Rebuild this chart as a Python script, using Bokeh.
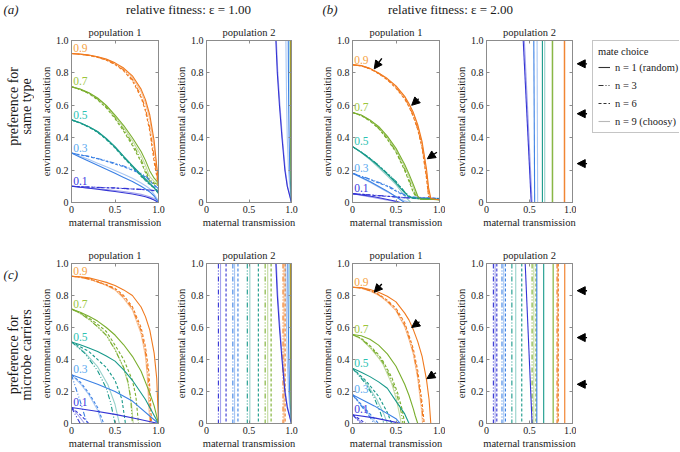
import math
import numpy as np
from bokeh.plotting import figure
from bokeh.models import (Range1d, LinearAxis, FixedTicker, Arrow, NormalHead,
                          Legend, LegendItem, Spacer, Label)
from bokeh.layouts import row, column
from bokeh.core.properties import value
from bokeh.embed import file_html
from bokeh.resources import INLINE

# ---------------------------------------------------------------- data
LEVELS = ["0.1", "0.3", "0.5", "0.7", "0.9"]
COLORS = ["#3434d4", "#3b80e4", "#18998a", "#7aae2e", "#f07a1f"]
LABEL_COLORS = ["#3a3ae0", "#58a8f0", "#2cc2b2", "#9cc63c", "#f6a343"]

XT = [0, 0.5, 1.0]
XT_LABELS = ["0", "0.5", "1.0"]
YT = [0, 0.2, 0.4, 0.6, 0.8, 1.0]
YT_LABELS = ["0", "0.2", "0.4", "0.6", "0.8", "1.0"]
Y_SPAN = [1.0, 0.0]

# (a) population 1  (common x grid)
A1_X = [0, 0.1, 0.2, 0.3, 0.4, 0.5, 0.6, 0.7, 0.8, 0.85, 0.9, 0.95, 1.0]
A1_N1 = [[0.100, 0.094, 0.088, 0.082, 0.075, 0.068, 0.060, 0.052, 0.042, 0.035, 0.027, 0.015, 0.000],
         [0.305, 0.280, 0.255, 0.230, 0.205, 0.180, 0.155, 0.130, 0.100, 0.083, 0.065, 0.040, 0.000],
         [0.510, 0.492, 0.468, 0.438, 0.395, 0.345, 0.285, 0.228, 0.172, 0.145, 0.118, 0.090, 0.055],
         [0.715, 0.700, 0.678, 0.645, 0.600, 0.540, 0.475, 0.400, 0.315, 0.260, 0.195, 0.150, 0.120],
         [0.920, 0.916, 0.910, 0.900, 0.885, 0.862, 0.830, 0.782, 0.700, 0.635, 0.540, 0.380, 0.120]]
A1_N3 = [[0.100, 0.098, 0.096, 0.094, 0.092, 0.090, 0.087, 0.084, 0.081, 0.079, 0.077, 0.074, 0.070],
         [0.305, 0.295, 0.285, 0.272, 0.258, 0.242, 0.225, 0.205, 0.180, 0.162, 0.140, 0.110, 0.085],
         [0.510, 0.491, 0.466, 0.435, 0.391, 0.340, 0.280, 0.222, 0.165, 0.138, 0.112, 0.092, 0.070],
         [0.715, 0.698, 0.674, 0.638, 0.590, 0.525, 0.450, 0.365, 0.265, 0.200, 0.140, 0.120, 0.110],
         [0.920, 0.915, 0.908, 0.897, 0.880, 0.855, 0.818, 0.760, 0.660, 0.580, 0.460, 0.280, 0.110]]
A1_N6 = [[0.100, 0.098, 0.095, 0.093, 0.091, 0.089, 0.086, 0.083, 0.080, 0.078, 0.076, 0.073, 0.068],
         [0.305, 0.294, 0.283, 0.270, 0.255, 0.238, 0.220, 0.200, 0.175, 0.157, 0.135, 0.105, 0.080],
         [0.510, 0.490, 0.465, 0.433, 0.389, 0.337, 0.277, 0.219, 0.162, 0.135, 0.110, 0.090, 0.068],
         [0.715, 0.697, 0.672, 0.634, 0.584, 0.518, 0.440, 0.352, 0.250, 0.185, 0.130, 0.115, 0.105],
         [0.920, 0.915, 0.907, 0.896, 0.878, 0.852, 0.813, 0.752, 0.648, 0.565, 0.440, 0.250, 0.100]]
A1_N9 = [[0.100, 0.095, 0.090, 0.085, 0.080, 0.074, 0.068, 0.060, 0.050, 0.043, 0.035, 0.025, 0.010],
         [0.305, 0.285, 0.265, 0.243, 0.220, 0.198, 0.175, 0.150, 0.120, 0.103, 0.085, 0.050, 0.010],
         [0.510, 0.491, 0.467, 0.437, 0.393, 0.342, 0.283, 0.225, 0.168, 0.141, 0.115, 0.090, 0.060],
         [0.715, 0.699, 0.676, 0.642, 0.596, 0.532, 0.462, 0.383, 0.290, 0.230, 0.160, 0.130, 0.115],
         [0.920, 0.916, 0.909, 0.899, 0.883, 0.859, 0.825, 0.772, 0.685, 0.615, 0.515, 0.340, 0.120]]

# (a) population 2  (x values on a common y grid)
A2_Y = [1.0, 0.8, 0.6, 0.4, 0.2, 0.1, 0.0]
A2_N1 = [[0.816, 0.833, 0.858, 0.888, 0.922, 0.950, 1.000],
         [0.962, 0.964, 0.967, 0.972, 0.980, 0.990, 1.000],
         [0.985, 0.986, 0.988, 0.990, 0.993, 0.996, 1.000],
         [0.990, 0.991, 0.992, 0.994, 0.996, 0.998, 1.000],
         [0.996, 0.996, 0.997, 0.998, 0.999, 1.000, 1.000]]
A2_N9 = [[0.822, 0.839, 0.864, 0.893, 0.927, 0.954, 1.000],
         [0.934, 0.938, 0.943, 0.950, 0.965, 0.980, 1.000],
         [0.988, 0.989, 0.990, 0.992, 0.995, 0.997, 1.000],
         [0.993, 0.993, 0.994, 0.995, 0.997, 0.999, 1.000],
         [0.998, 0.998, 0.998, 0.999, 0.999, 1.000, 1.000]]

# (b) population 1
B1_X09 = [0, 0.1, 0.2, 0.3, 0.4, 0.5, 0.6, 0.65, 0.7, 0.75, 0.8, 0.85, 0.875, 0.9, 0.95, 1.0]
B1_X07 = [0, 0.1, 0.2, 0.3, 0.4, 0.5, 0.6, 0.65, 0.7, 0.75, 0.78, 0.85, 1.0]
B1_X05 = [0, 0.1, 0.2, 0.3, 0.4, 0.5, 0.6, 0.65, 0.7, 1.0]
B1_N1_X = [[0, 0.25, 0.5, 0.55], [0, 0.2, 0.4, 0.6], B1_X05, B1_X07, B1_X09]
B1_N1_Y = [[0.055, 0.035, 0.008, 0.0],
           [0.18, 0.13, 0.07, 0.0],
           [0.345, 0.31, 0.27, 0.225, 0.175, 0.12, 0.06, 0.035, 0.025, 0.02],
           [0.555, 0.54, 0.51, 0.47, 0.41, 0.335, 0.235, 0.175, 0.11, 0.04, 0.022, 0.02, 0.018],
           [0.85, 0.845, 0.828, 0.80, 0.765, 0.72, 0.655, 0.61, 0.555, 0.48, 0.375, 0.21, 0.09, 0.025, 0.02, 0.018]]
B1_N3_X = [[0, 0.25, 0.5, 0.6, 1.0], [0, 0.2, 0.4, 0.55, 0.65, 1.0], B1_X05, B1_X07, B1_X09]
B1_N3_Y = [[0.055, 0.045, 0.035, 0.03, 0.025],
           [0.18, 0.145, 0.105, 0.06, 0.035, 0.025],
           [0.345, 0.312, 0.273, 0.23, 0.18, 0.13, 0.065, 0.04, 0.028, 0.02],
           [0.555, 0.538, 0.505, 0.46, 0.395, 0.315, 0.205, 0.14, 0.07, 0.025, 0.021, 0.02, 0.018],
           [0.85, 0.844, 0.826, 0.797, 0.76, 0.71, 0.643, 0.595, 0.535, 0.455, 0.345, 0.165, 0.04, 0.022, 0.02, 0.018]]
B1_N6_X = B1_N3_X
B1_N6_Y = [[0.055, 0.044, 0.034, 0.029, 0.024],
           [0.18, 0.142, 0.1, 0.055, 0.033, 0.024],
           [0.345, 0.311, 0.272, 0.228, 0.178, 0.128, 0.063, 0.038, 0.027, 0.02],
           [0.555, 0.537, 0.503, 0.457, 0.39, 0.31, 0.198, 0.13, 0.06, 0.023, 0.021, 0.02, 0.018],
           [0.85, 0.843, 0.825, 0.795, 0.757, 0.706, 0.638, 0.59, 0.528, 0.45, 0.335, 0.15, 0.035, 0.022, 0.02, 0.018]]
B1_N9_X = [[0, 0.25, 0.5, 0.52], [0, 0.2, 0.4, 0.6, 0.66],
           [0, 0.1, 0.2, 0.3, 0.4, 0.5, 0.6, 0.67], B1_X07, B1_X09]
B1_N9_Y = [[0.055, 0.03, 0.005, 0.0],
           [0.18, 0.125, 0.065, 0.01, 0.0],
           [0.345, 0.308, 0.265, 0.215, 0.165, 0.11, 0.04, 0.0],
           [0.555, 0.539, 0.508, 0.465, 0.402, 0.325, 0.22, 0.16, 0.09, 0.03, 0.022, 0.02, 0.018],
           [0.85, 0.845, 0.827, 0.799, 0.763, 0.716, 0.65, 0.603, 0.548, 0.47, 0.36, 0.19, 0.065, 0.024, 0.02, 0.018]]

# (b) population 2  (x at top, x at bottom)
B2_N1_TOP = [0.427, 0.55, 0.65, 0.765, 0.905]
B2_N1_BOT = [0.52, 0.56, 0.65, 0.765, 0.905]
B2_N9_TOP = [0.44, 0.588, 0.677, 0.772, 0.912]
B2_N9_BOT = [0.53, 0.595, 0.677, 0.772, 0.912]

# (c) population 1
C1_N1_X = [[0, 0.25, 0.5, 0.75, 1.0],
           [0, 0.3, 0.5, 0.7, 1.0],
           [0, 0.1, 0.2, 0.3, 0.4, 0.5, 0.6, 0.7, 0.85, 1.0],
           [0, 0.1, 0.2, 0.3, 0.4, 0.5, 0.6, 0.7, 0.8, 0.9, 0.95, 1.0],
           [0, 0.1, 0.2, 0.3, 0.4, 0.5, 0.6, 0.7, 0.8, 0.85, 0.9, 0.95, 0.98, 1.0]]
C1_N1_Y = [[0.1, 0.08, 0.057, 0.03, 0.0],
           [0.305, 0.245, 0.2, 0.14, 0.0],
           [0.51, 0.492, 0.472, 0.45, 0.422, 0.39, 0.335, 0.27, 0.15, 0.0],
           [0.715, 0.695, 0.67, 0.64, 0.6, 0.553, 0.492, 0.42, 0.327, 0.19, 0.11, 0.0],
           [0.92, 0.917, 0.91, 0.897, 0.882, 0.862, 0.835, 0.80, 0.728, 0.668, 0.584, 0.44, 0.28, 0.0]]
C1_N3_X = [[0, 0.05, 0.1],
           [0, 0.05, 0.1, 0.15, 0.18],
           [0, 0.15, 0.3, 0.4, 0.45, 0.5],
           [0, 0.1, 0.2, 0.3, 0.4, 0.5, 0.6, 0.65, 0.68, 0.7],
           [0, 0.1, 0.2, 0.3, 0.4, 0.5, 0.6, 0.7, 0.8, 0.85, 0.88, 0.9, 0.91]]
C1_N3_Y = [[0.1, 0.05, 0.0],
           [0.305, 0.22, 0.14, 0.05, 0.0],
           [0.51, 0.44, 0.33, 0.22, 0.13, 0.0],
           [0.715, 0.69, 0.65, 0.605, 0.55, 0.46, 0.35, 0.26, 0.16, 0.0],
           [0.92, 0.914, 0.903, 0.885, 0.865, 0.84, 0.79, 0.72, 0.58, 0.45, 0.3, 0.12, 0.0]]
C1_N6_X = [[0, 0.1, 0.2],
           [0, 0.1, 0.2, 0.3, 0.37],
           [0, 0.2, 0.4, 0.5, 0.58, 0.62],
           [0, 0.1, 0.2, 0.3, 0.4, 0.5, 0.6, 0.7, 0.74, 0.77],
           [0, 0.1, 0.2, 0.3, 0.4, 0.5, 0.6, 0.7, 0.8, 0.85, 0.89, 0.91, 0.92]]
C1_N6_Y = [[0.1, 0.055, 0.0],
           [0.305, 0.26, 0.19, 0.1, 0.0],
           [0.51, 0.45, 0.35, 0.27, 0.15, 0.0],
           [0.715, 0.692, 0.66, 0.62, 0.575, 0.49, 0.4, 0.27, 0.17, 0.0],
           [0.92, 0.915, 0.904, 0.887, 0.868, 0.845, 0.8, 0.73, 0.6, 0.48, 0.32, 0.12, 0.0]]
C1_N9_X = [[0, 0.08, 0.15],
           [0, 0.1, 0.2, 0.3, 0.35],
           [0, 0.15, 0.3, 0.42, 0.5, 0.55],
           [0, 0.1, 0.2, 0.3, 0.4, 0.5, 0.6, 0.65, 0.69, 0.71],
           [0, 0.1, 0.2, 0.3, 0.4, 0.5, 0.6, 0.7, 0.8, 0.85, 0.87, 0.89, 0.9]]
C1_N9_Y = [[0.1, 0.05, 0.0],
           [0.305, 0.25, 0.18, 0.085, 0.0],
           [0.51, 0.445, 0.355, 0.24, 0.12, 0.0],
           [0.715, 0.688, 0.652, 0.605, 0.553, 0.465, 0.345, 0.25, 0.12, 0.0],
           [0.92, 0.913, 0.902, 0.884, 0.862, 0.835, 0.782, 0.71, 0.56, 0.42, 0.3, 0.1, 0.0]]

# (c) population 2
C2_N1 = [[0.816, 0.833, 0.858, 0.888, 0.922, 0.950, 1.000],
         [0.957, 0.959, 0.963, 0.969, 0.978, 0.988, 1.000],
         [0.984, 0.985, 0.987, 0.990, 0.993, 0.996, 1.000],
         [0.990, 0.991, 0.992, 0.994, 0.996, 0.998, 1.000],
         [0.995, 0.995, 0.996, 0.997, 0.998, 0.999, 1.000]]
C2_N9C = [[0.822, 0.839, 0.864, 0.893, 0.927, 0.954, 1.000],
          [0.933, 0.937, 0.942, 0.950, 0.965, 0.980, 1.000],
          [0.988, 0.989, 0.990, 0.992, 0.995, 0.997, 1.000],
          [0.993, 0.993, 0.994, 0.995, 0.997, 0.999, 1.000],
          [0.998, 0.998, 0.998, 0.999, 0.999, 1.000, 1.000]]
C2_N3 = [0.14, 0.31, 0.48, 0.69, 0.90]
C2_N6 = [0.23, 0.37, 0.61, 0.76, 0.925]
C2_N9 = [0.165, 0.33, 0.51, 0.72, 0.912]

# (d) population 1
D1_N1_X = [[0, 0.25, 0.5, 0.55],
           [0, 0.25, 0.5, 0.55],
           [0, 0.1, 0.2, 0.3, 0.4, 0.5, 0.6, 0.65],
           [0, 0.1, 0.2, 0.3, 0.4, 0.5, 0.6, 0.65, 0.7, 0.72, 0.75],
           [0, 0.1, 0.2, 0.3, 0.4, 0.5, 0.6, 0.65, 0.7, 0.75, 0.8, 0.85, 0.88, 0.9]]
D1_N1_Y = [[0.055, 0.035, 0.007, 0.0],
           [0.18, 0.11, 0.03, 0.0],
           [0.345, 0.32, 0.293, 0.26, 0.22, 0.14, 0.06, 0.0],
           [0.556, 0.548, 0.527, 0.49, 0.435, 0.358, 0.245, 0.175, 0.09, 0.05, 0.0],
           [0.852, 0.849, 0.838, 0.82, 0.795, 0.76, 0.69, 0.646, 0.585, 0.512, 0.42, 0.276, 0.15, 0.0]]
D1_N3_X = [[0, 0.05, 0.1],
           [0, 0.1, 0.2, 0.25],
           [0, 0.15, 0.25, 0.32, 0.36],
           [0, 0.1, 0.2, 0.3, 0.35, 0.45, 0.52, 0.56, 0.58],
           [0, 0.1, 0.2, 0.3, 0.4, 0.5, 0.6, 0.65, 0.7, 0.75, 0.795, 0.815]]
D1_N3_Y = [[0.055, 0.027, 0.0],
           [0.18, 0.11, 0.04, 0.0],
           [0.345, 0.25, 0.16, 0.07, 0.0],
           [0.556, 0.53, 0.48, 0.42, 0.38, 0.27, 0.16, 0.07, 0.0],
           [0.852, 0.846, 0.83, 0.805, 0.765, 0.71, 0.615, 0.535, 0.445, 0.3, 0.12, 0.0]]
D1_N6_X = [[0, 0.08, 0.15],
           [0, 0.1, 0.2, 0.3],
           [0, 0.15, 0.3, 0.4, 0.45],
           [0, 0.1, 0.2, 0.3, 0.35, 0.45, 0.52, 0.57, 0.6],
           [0, 0.1, 0.2, 0.3, 0.4, 0.5, 0.6, 0.65, 0.7, 0.75, 0.8, 0.825]]
D1_N6_Y = [[0.055, 0.028, 0.0],
           [0.18, 0.12, 0.06, 0.0],
           [0.345, 0.27, 0.17, 0.07, 0.0],
           [0.556, 0.533, 0.487, 0.43, 0.39, 0.29, 0.19, 0.09, 0.0],
           [0.852, 0.847, 0.832, 0.808, 0.77, 0.72, 0.63, 0.55, 0.465, 0.33, 0.13, 0.0]]
D1_N9_X = [[0, 0.06, 0.12],
           [0, 0.1, 0.2, 0.27],
           [0, 0.15, 0.28, 0.36, 0.4],
           [0, 0.1, 0.2, 0.3, 0.35, 0.45, 0.5, 0.54, 0.56],
           [0, 0.1, 0.2, 0.3, 0.4, 0.5, 0.6, 0.65, 0.7, 0.75, 0.79, 0.805]]
D1_N9_Y = [[0.055, 0.025, 0.0],
           [0.18, 0.115, 0.05, 0.0],
           [0.345, 0.26, 0.15, 0.06, 0.0],
           [0.556, 0.528, 0.475, 0.41, 0.37, 0.25, 0.16, 0.06, 0.0],
           [0.852, 0.845, 0.828, 0.802, 0.76, 0.705, 0.605, 0.525, 0.43, 0.28, 0.1, 0.0]]

# (d) population 2
D2_N1_TOP = [0.45, 0.585, 0.665, 0.775, 0.91]
D2_N1_BOT = [0.53, 0.585, 0.665, 0.775, 0.91]
D2_N3 = [0.08, 0.18, 0.295, 0.53, 0.82]
D2_N6 = [0.12, 0.22, 0.41, 0.575, 0.835]
D2_N9 = [0.10, 0.20, 0.34, 0.55, 0.828]

# arrows (x_start, y_start, x_end, y_end)
B1_ARROWS = [(0.337, 0.89, 0.25, 0.825), (0.76, 0.64, 0.68, 0.60), (0.97, 0.31, 0.86, 0.27)]
D1_ARROWS = [(0.337, 0.872, 0.25, 0.82), (0.77, 0.636, 0.68, 0.60), (0.96, 0.317, 0.855, 0.28)]
B2_ARROW_Y = [0.856, 0.548, 0.24]
D2_ARROW_Y = [0.83, 0.537, 0.245]
SIDE_ARROW_X = (0.88, 0.06)   # within the narrow strip right of population 2

LEGEND_LABELS = ["n = 1 (random)", "n = 3", "n = 6", "n = 9 (choosy)"]

# ---------------------------------------------------------------- styles
FONT = "Liberation Serif"
AXIS_GRAY = "#8c8c8c"
TEXT = "#1a1a1a"
LW = 1.1
STYLES = {
    "n1": dict(line_dash="solid", line_alpha=1.0),
    "n3": dict(line_dash="5 2 1 2 1 2", line_alpha=1.0),
    "n6": dict(line_dash="3 2", line_alpha=1.0),
    "n9": dict(line_dash="solid", line_alpha=0.45),
}


def style_axis(ax, labels=True):
    ax.axis_line_color = AXIS_GRAY
    ax.major_tick_line_color = AXIS_GRAY
    ax.major_tick_in = 3
    ax.major_tick_out = 0
    ax.minor_tick_line_color = None
    ax.major_label_text_font = FONT
    ax.major_label_text_font_size = "10px"
    ax.major_label_text_color = TEXT
    ax.major_label_standoff = 3 if labels else 0
    ax.axis_label_text_font = FONT
    ax.axis_label_text_font_size = "10.5px"
    ax.axis_label_text_font_style = "normal"
    ax.axis_label_text_color = TEXT
    ax.axis_label_standoff = 1


def panel(title, w, h, lb, rb, tb, bb):
    p = figure(width=w, height=h, x_range=Range1d(0, 1), y_range=Range1d(0, 1),
               output_backend="svg", toolbar_location=None,
               min_border_left=lb, min_border_right=rb,
               min_border_top=tb, min_border_bottom=bb,
               x_axis_label="maternal transmission",
               y_axis_label="environmental acquisition")
    p.title.text = title
    p.title.align = "center"
    p.title.text_font = FONT
    p.title.text_font_size = "10.5px"
    p.title.text_font_style = "normal"
    p.title.text_color = TEXT
    p.title.standoff = 5
    p.grid.visible = False
    p.outline_line_color = AXIS_GRAY
    p.background_fill_color = "white"
    p.border_fill_color = "white"
    p.xaxis.ticker = FixedTicker(ticks=XT)
    p.xaxis.major_label_overrides = dict(zip(XT, XT_LABELS))
    p.yaxis.ticker = FixedTicker(ticks=YT)
    p.yaxis.major_label_overrides = dict(zip(YT, YT_LABELS))
    style_axis(p.xaxis[0])
    style_axis(p.yaxis[0])
    top = LinearAxis(ticker=FixedTicker(ticks=XT),
                     major_label_overrides={t: "" for t in XT})
    style_axis(top, labels=False)
    right = LinearAxis(ticker=FixedTicker(ticks=YT),
                       major_label_overrides={t: "" for t in YT})
    style_axis(right, labels=False)
    p.add_layout(top, "above")
    p.add_layout(right, "right")
    return p


def draw_set(p, xs_list, ys_list, style):
    for i, (xs, ys) in enumerate(zip(xs_list, ys_list)):
        p.line(x=xs, y=ys, line_color=COLORS[i], line_width=LW, **STYLES[style])


def draw_verticals(p, tops, bots, style):
    for i, (t, b) in enumerate(zip(tops, bots)):
        p.line(x=[t, b], y=Y_SPAN, line_color=COLORS[i], line_width=LW, **STYLES[style])


def level_labels(p, starts):
    p.text(x=[0.02] * 5, y=[s + 0.008 for s in starts], text=LEVELS,
           text_color=LABEL_COLORS, text_font=value(FONT), text_font_size="11.5px",
           text_baseline="bottom", text_align="left")


def arrows(p, specs):
    for xs, ys, xe, ye in specs:
        p.add_layout(Arrow(end=NormalHead(size=8, line_color="black", fill_color="black"),
                           x_start=xs, y_start=ys, x_end=xe, y_end=ye,
                           line_color="black", line_width=1.4))


def blank(w, h, **borders):
    f = figure(width=w, height=h, x_range=Range1d(0, 1), y_range=Range1d(0, 1),
               output_backend="svg", toolbar_location=None, x_axis_type=None,
               y_axis_type=None, **borders)
    f.outline_line_color = None
    return f


# ---------------------------------------------------------------- sizes
W_RL, W_A1, W_A2, W_B1, W_B2, W_STRIP, W_LEG = 34, 131, 133, 147, 131, 12, 91
W_ALL = W_RL + W_A1 + W_A2 + W_B1 + W_B2 + W_STRIP + W_LEG
H_HEAD, H_TOP, H_BOT = 18, 214, 219
TB_TOP, BB_TOP = 22, 30
TB_BOT, BB_BOT = 31, 27

# ---------------------------------------------------------------- header
head1 = figure(width=W_ALL, height=H_HEAD, x_range=Range1d(0, W_ALL),
               y_range=Range1d(0, 1), output_backend="svg", toolbar_location=None,
               x_axis_type=None, y_axis_type=None, min_border=0)
head1.outline_line_color = None
for x, txt, align, fstyle in [(3, "(a)", "left", "italic"),
                              (188, "relative fitness: ε = 1.00", "center", "normal"),
                              (322, "(b)", "left", "italic"),
                              (450, "relative fitness: ε = 2.00", "center", "normal")]:
    head1.text(x=[x], y=[0.5], text=[txt], text_font=value(FONT), text_font_size="13px",
               text_font_style=fstyle, text_align=align, text_baseline="middle",
               text_color=TEXT)

# ---------------------------------------------------------------- top row
rl1 = blank(W_RL, H_TOP, min_border=0)
rl1.text(x=[0.37, 0.77], y=[0.593, 0.593], text=["preference for", "same type"],
         angle=math.pi / 2, text_font=value(FONT), text_font_size="14px",
         text_align="center", text_baseline="middle", text_color=TEXT)

a1 = panel("population 1", W_A1, H_TOP, 37, 7, TB_TOP, BB_TOP)
for st, arr in zip(["n9", "n6", "n3", "n1"], [A1_N9, A1_N6, A1_N3, A1_N1]):
    draw_set(a1, [A1_X] * 5, arr, st)
level_labels(a1, [c[0] for c in A1_N1])

a2 = panel("population 2", W_A2, H_TOP, 41, 7, TB_TOP, BB_TOP)
draw_set(a2, A2_N9, [A2_Y] * 5, "n9")
draw_set(a2, A2_N1, [A2_Y] * 5, "n1")

b1 = panel("population 1", W_B1, H_TOP, 54, 6, TB_TOP, BB_TOP)
for st, xs, ys in [("n9", B1_N9_X, B1_N9_Y), ("n6", B1_N6_X, B1_N6_Y),
                   ("n3", B1_N3_X, B1_N3_Y), ("n1", B1_N1_X, B1_N1_Y)]:
    draw_set(b1, xs, ys, st)
level_labels(b1, [c[0] for c in B1_N1_Y])
arrows(b1, B1_ARROWS)

b2 = panel("population 2", W_B2, H_TOP, 41, 4, TB_TOP, BB_TOP)
draw_verticals(b2, B2_N9_TOP, B2_N9_BOT, "n9")
draw_verticals(b2, B2_N1_TOP, B2_N1_BOT, "n1")

sb = blank(W_STRIP, H_TOP, min_border_left=0, min_border_right=0,
           min_border_top=TB_TOP, min_border_bottom=BB_TOP)
arrows(sb, [(SIDE_ARROW_X[0], y, SIDE_ARROW_X[1], y) for y in B2_ARROW_Y])

# legend figure
lf = blank(W_LEG, H_TOP, min_border_left=4, min_border_right=0,
           min_border_top=21, min_border_bottom=0)
leg_styles = [("#333333", "solid", 1.0), ("#333333", "5 2 1 2 1 2", 1.0),
              ("#333333", "3 2", 1.0), ("#333333", "solid", 0.35)]
items = []
for lab, (col, dash, alpha) in zip(LEGEND_LABELS, leg_styles):
    r = lf.line(x=np.array([np.nan]), y=np.array([np.nan]), line_color=col,
                line_dash=dash, line_alpha=alpha, line_width=LW)
    items.append(LegendItem(label=lab, renderers=[r]))
legend = Legend(items=items, location="top_left", title="mate choice",
                title_text_font=FONT, title_text_font_size="10.5px",
                title_text_font_style="normal", title_text_color=TEXT,
                title_standoff=4,
                label_text_font=FONT, label_text_font_size="10.5px",
                label_text_color=TEXT, glyph_width=12, glyph_height=12,
                label_height=12, label_standoff=5, spacing=6, padding=5,
                margin=0, border_line_color=AXIS_GRAY, border_line_width=1,
                background_fill_color="white")
lf.add_layout(legend)

# ---------------------------------------------------------------- bottom row
rl2 = blank(W_RL, H_BOT, min_border=0)
rl2.text(x=[0.37, 0.77], y=[0.429, 0.429], text=["preference for", "microbe carriers"],
         angle=math.pi / 2, text_font=value(FONT), text_font_size="14px",
         text_align="center", text_baseline="middle", text_color=TEXT)
rl2.text(x=[0.09], y=[0.932], text=["(c)"], text_font=value(FONT), text_font_size="13px",
         text_font_style="italic", text_align="left", text_baseline="middle",
         text_color=TEXT)

c1 = panel("population 1", W_A1, H_BOT, 37, 7, TB_BOT, BB_BOT)
for st, xs, ys in [("n9", C1_N9_X, C1_N9_Y), ("n6", C1_N6_X, C1_N6_Y),
                   ("n3", C1_N3_X, C1_N3_Y), ("n1", C1_N1_X, C1_N1_Y)]:
    draw_set(c1, xs, ys, st)
level_labels(c1, [c[0] for c in C1_N1_Y])

c2 = panel("population 2", W_A2, H_BOT, 41, 7, TB_BOT, BB_BOT)
draw_verticals(c2, C2_N9, C2_N9, "n9")
draw_verticals(c2, C2_N6, C2_N6, "n6")
draw_verticals(c2, C2_N3, C2_N3, "n3")
draw_set(c2, C2_N9C, [A2_Y] * 5, "n9")
draw_set(c2, C2_N1, [A2_Y] * 5, "n1")

d1 = panel("population 1", W_B1, H_BOT, 54, 6, TB_BOT, BB_BOT)
for st, xs, ys in [("n9", D1_N9_X, D1_N9_Y), ("n6", D1_N6_X, D1_N6_Y),
                   ("n3", D1_N3_X, D1_N3_Y), ("n1", D1_N1_X, D1_N1_Y)]:
    draw_set(d1, xs, ys, st)
level_labels(d1, [c[0] for c in D1_N1_Y])
arrows(d1, D1_ARROWS)
d1.add_layout(Label(x=-0.345, y=1.099, text="(d)", text_font=FONT,
                    text_font_size="13px", text_font_style="italic",
                    text_baseline="middle", text_align="left", text_color=TEXT))

d2 = panel("population 2", W_B2, H_BOT, 41, 4, TB_BOT, BB_BOT)
draw_verticals(d2, D2_N9, D2_N9, "n9")
draw_verticals(d2, D2_N6, D2_N6, "n6")
draw_verticals(d2, D2_N3, D2_N3, "n3")
draw_verticals(d2, D2_N1_TOP, D2_N1_BOT, "n1")

sd = blank(W_STRIP, H_BOT, min_border_left=0, min_border_right=0,
           min_border_top=TB_BOT, min_border_bottom=BB_BOT)
arrows(sd, [(SIDE_ARROW_X[0], y, SIDE_ARROW_X[1], y) for y in D2_ARROW_Y])

layout = column(
    head1,
    row(rl1, a1, a2, b1, b2, sb, lf),
    row(rl2, c1, c2, d1, d2, sd, Spacer(width=W_LEG, height=H_BOT)),
)

open("out.html", "w").write(file_html(layout, INLINE))
